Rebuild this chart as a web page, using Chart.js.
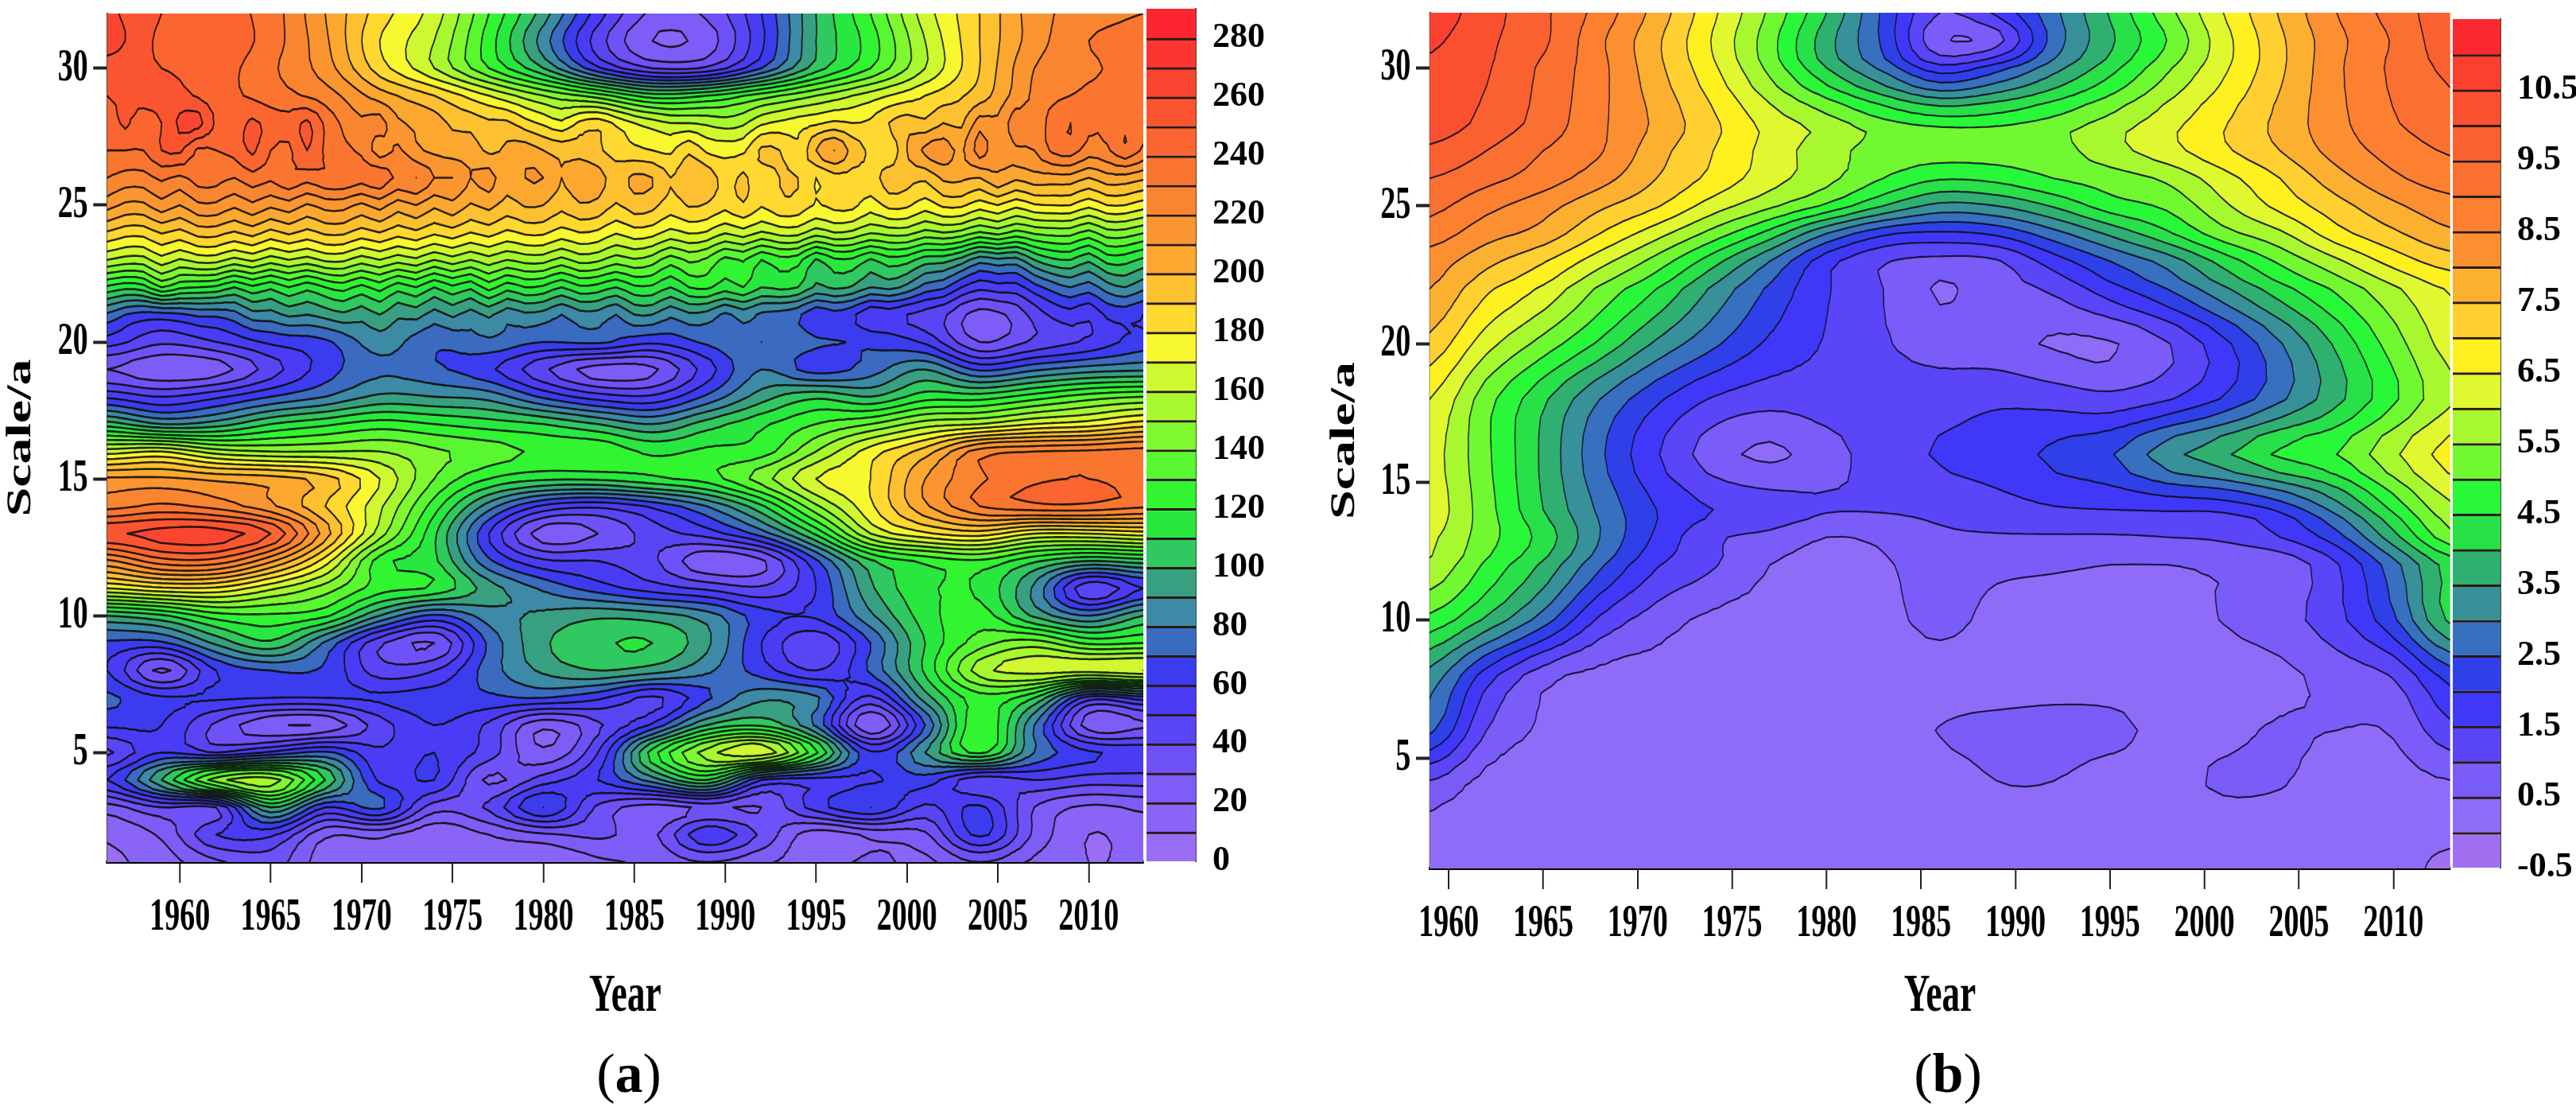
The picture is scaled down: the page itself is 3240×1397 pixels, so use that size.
<!DOCTYPE html>
<html>
<head>
<meta charset="utf-8">
<title>Wavelet contour panels</title>
<script src="https://cdn.jsdelivr.net/npm/chart.js@4"></script>
<style>
  html, body { margin:0; padding:0; background:#fff; width:3240px; height:1397px; overflow:hidden; }
  canvas { position:absolute; top:0; filter:blur(0.6px); }
  .tag { position:absolute; top:1314px; font:70px "Liberation Serif", serif; color:#000; transform:translateX(-50%); line-height:72px; }
  .tag b { font-weight:bold; }
</style>
</head>
<body>
<canvas id="panelA" width="2160" height="1397" style="left:0;width:1440px;height:1397px"></canvas>
<canvas id="barA" width="160" height="1397" style="left:1442px;width:160px;height:1397px"></canvas>
<canvas id="panelB" width="2130" height="1397" style="left:1665px;width:1420px;height:1397px"></canvas>
<canvas id="barB" width="155" height="1397" style="left:3085px;width:155px;height:1397px"></canvas>
<div class="tag" style="left:791px">(<b>a</b>)</div>
<div class="tag" style="left:2450px">(<b>b</b>)</div>
<script>
// panel (a) - grid, one row per scale, top row first.
// rows 28..21 are noisy so they are read every year (58 values), the rest every 3 years (20 values)
const yearsA = [1956,1959,1962,1965,1968,1971,1974,1977,1980,1983,1986,1989,1992,1995,1998,2001,2004,2007,2010,2013];
const scalesA = [32,31,30,29,28,27,26,25,24,23,22,21,20,19,18,17,16,15,14,13,12,11,10,9,8,7,6,5,4,3,2,1];
const valuesA = [
  [262,250,245,235,210,185,165,130,95,55,28,32,60,100,130,165,190,215,225,230],
  [265,248,248,235,212,180,160,125,85,45,20,25,58,100,125,160,190,215,230,235],
  [255,250,245,232,215,185,160,130,100,62,40,42,70,105,130,160,190,220,228,235],
  [250,255,245,235,225,205,190,170,150,135,115,120,135,150,165,180,195,222,232,232],
  [244,252,244,250,262,264,248,245,252,246,244,252,238,228,222,224,212,208,205,198,196,192,192,184,178,172,182,186,178,170,165,160,160,158,155,158,168,172,175,178,182,180,182,190,195,192,200,198,215,212,226,222,235,240,232,232,238,232],
  [240,240,240,250,252,238,240,243,252,240,238,250,238,232,228,215,222,212,208,205,205,198,202,205,200,196,196,192,185,182,180,178,188,178,176,178,192,190,182,200,210,196,188,182,200,212,215,208,225,212,218,220,232,235,225,228,238,228],
  [230,226,226,232,228,234,234,230,236,232,238,234,238,238,234,236,228,230,220,220,210,214,204,210,210,200,206,204,196,202,200,190,196,196,186,192,184,190,190,180,186,186,186,194,194,192,202,202,200,208,202,206,206,206,200,206,206,202],
  [214,208,208,216,210,218,218,212,218,212,216,209,214,214,208,214,205,210,202,207,199,203,196,201,200,193,199,197,189,195,193,185,191,189,183,189,181,187,186,179,183,183,175,183,182,175,182,182,175,180,173,179,180,180,173,180,180,175],
  [189,184,184,191,187,194,194,189,194,187,192,187,192,192,186,190,184,188,182,186,180,184,178,182,182,176,180,178,171,176,174,167,171,169,161,166,159,164,164,155,160,158,151,154,154,147,150,147,139,144,137,142,144,144,137,146,146,141],
  [160,156,156,166,159,164,164,157,162,155,160,156,162,162,155,160,154,158,150,156,150,156,150,154,154,147,154,152,145,149,145,135,142,138,127,131,120,126,124,109,118,118,109,116,114,105,104,96,84,88,86,100,108,110,102,114,114,108],
  [118,113,116,130,122,120,118,110,118,112,120,113,120,124,117,124,114,120,110,118,112,124,114,120,118,110,118,116,110,118,118,110,120,122,115,120,110,113,110,98,102,99,90,93,87,76,72,60,53,56,56,66,74,80,75,85,90,83],
  [78,70,66,66,68,72,72,76,86,86,92,90,94,98,94,100,92,94,86,92,86,92,84,88,86,80,86,86,80,90,90,82,88,86,78,84,78,76,72,62,66,62,52,54,50,46,42,32,26,28,34,44,52,56,52,62,64,60],
  [55,42,50,62,68,85,72,78,70,72,62,72,80,72,68,58,30,42,52,65],
  [30,22,25,45,65,78,72,62,42,25,28,55,80,65,75,90,68,78,85,88],
  [58,50,58,70,80,92,90,86,68,55,52,72,95,108,100,115,115,125,135,140],
  [105,90,95,110,118,125,120,115,110,100,90,105,118,130,140,155,160,170,175,185],
  [165,170,155,150,150,150,142,135,128,128,118,122,125,150,175,195,225,230,232,235],
  [212,212,208,205,195,170,140,120,112,112,118,125,145,170,180,210,228,238,240,236],
  [226,232,226,212,190,162,125,85,58,52,62,80,108,148,178,208,230,238,238,232],
  [258,264,265,250,205,155,112,60,25,30,45,55,75,112,160,178,185,170,170,175],
  [218,236,236,212,175,125,112,72,52,50,42,22,28,68,108,122,128,112,100,105],
  [170,178,178,162,145,125,118,95,78,65,55,48,42,60,98,118,118,88,42,60],
  [100,108,125,128,122,90,68,85,92,98,95,85,65,62,88,115,125,98,80,100],
  [68,68,92,108,78,42,30,72,98,108,110,92,60,42,70,110,135,145,128,130],
  [60,28,60,70,68,45,50,75,92,100,95,82,65,50,72,112,155,165,165,170],
  [72,62,62,60,60,62,65,68,70,62,48,68,88,82,48,95,125,110,55,65],
  [62,60,38,22,22,45,60,48,22,38,62,100,108,78,20,70,128,80,25,28],
  [38,60,50,62,72,52,60,45,22,50,115,155,168,122,62,90,122,80,62,58],
  [60,100,145,155,110,58,60,28,45,60,85,110,60,55,58,65,42,50,45,45],
  [25,40,40,100,60,72,35,42,70,38,25,32,30,55,70,48,62,30,18,22],
  [12,22,50,52,22,22,12,20,28,32,28,58,38,14,22,28,62,28,10,15],
  [8,15,28,35,15,18,12,15,10,18,22,30,22,15,22,18,30,18,10,12]
];
const levelsA = [0,10,20,30,40,50,60,70,80,90,100,110,120,130,140,150,160,170,180,190,200,210,220,230,240,250,260,270,280,290];
const colorsA = ['#9a6df5','#8a63f7','#7d5cf7','#6f52f7','#5a45f5','#4a3cf5','#3a3cee','#3a6bc0','#3c8aa5','#38a080',
  '#30c860','#28e840','#30f530','#58f830','#80f830','#a8f830','#d0f830','#f8f830','#ffd830','#fdc030',
  '#fca830','#fb9530','#fa8530','#fa7530','#fa6530','#fa5530','#fa4530','#fb3530','#fc2530'];
const barTicksA = [0,20,40,60,80,100,120,140,160,180,200,220,240,260,280];
const yearTicksA = [1960,1965,1970,1975,1980,1985,1990,1995,2000,2005,2010];

// panel (b)
const yearsB = [1959,1962,1965,1968,1971,1974,1977,1980,1983,1986,1989,1992,1995,1998,2001,2004,2007,2010,2013];
const scalesB = [32,31,30,28,27,26,25,24,23,22,20,18,16,14,13,12,10,8,6,4,2,1];
const valuesB = [
  [10.8,10.2,9.6,8.8,7.8,6.6,5.4,4.0,2.4,1.0,1.6,2.85,4.05,5.3,6.5,7.55,8.5,9.2,9.8],
  [10.6,10.1,9.6,8.6,7.6,6.45,5.2,3.7,2.4,0.6,0.8,2.7,3.9,5.0,6.3,7.4,8.35,9.05,9.8],
  [10.4,10.05,9.4,8.65,7.65,6.6,5.35,4.0,2.85,1.7,2.3,3.3,4.3,5.4,6.4,7.4,8.4,9.1,9.6],
  [10.3,9.85,9.3,8.6,7.9,7.1,6.3,5.75,5.15,4.85,4.9,5.2,5.7,6.3,6.95,7.65,8.35,8.95,9.3],
  [9.9,9.5,9.0,8.55,7.7,7.0,6.3,5.7,5.3,5.2,5.2,5.3,5.8,6.3,6.9,7.5,8.2,8.7,9.05],
  [9.5,9.15,8.75,8.2,7.5,6.85,6.2,5.65,5.0,4.55,4.65,5.0,5.25,5.6,6.3,7.0,7.8,8.4,8.75],
  [9.15,8.65,8.2,7.6,7.05,6.25,5.6,4.9,4.0,3.35,3.5,4.05,4.75,5.1,5.9,6.65,7.3,7.9,8.3],
  [8.75,8.2,7.8,7.0,6.2,5.3,4.3,3.0,2.1,1.9,2.1,2.8,3.6,4.4,5.3,5.9,6.8,7.4,7.9],
  [8.25,7.65,7.05,6.2,5.3,4.2,3.0,1.7,1.05,0.85,0.95,1.75,2.5,3.2,4.2,5.1,5.9,6.7,7.25],
  [8.0,7.1,6.4,5.4,4.5,3.4,2.4,1.55,1.0,0.45,0.8,1.1,1.8,2.5,3.4,4.3,5.1,5.9,6.55],
  [7.35,6.2,5.3,4.4,3.4,2.6,1.9,1.45,1.05,0.8,0.7,0.45,0.45,0.95,1.85,2.95,4.1,5.25,6.2],
  [6.5,5.2,4.1,3.0,2.1,1.45,1.2,1.25,1.2,1.25,1.4,1.3,1.15,1.45,2.05,2.9,3.85,4.9,5.9],
  [6.2,5.1,3.9,2.6,1.55,0.75,0.4,0.8,1.25,1.55,1.75,2.1,2.45,3.3,3.9,4.6,5.0,5.9,6.7],
  [6.3,5.2,4.0,2.9,2.0,1.5,1.3,1.05,1.05,1.15,1.3,1.45,1.5,1.55,1.6,2.1,3.2,4.6,5.85],
  [6.1,5.2,4.3,3.0,1.9,1.1,0.85,0.5,0.6,0.9,0.95,0.95,0.95,1.0,1.1,1.5,2.3,3.8,5.3],
  [5.9,4.9,3.9,2.6,1.55,1.05,0.5,0.3,0.45,0.7,0.6,0.55,0.5,0.5,0.55,0.65,1.45,2.8,4.2],
  [4.85,3.9,2.75,1.4,0.75,0.38,0.3,0.3,0.35,0.65,0.35,0.3,0.3,0.3,0.52,0.8,1.35,2.4,4.1],
  [3.3,1.75,0.7,0.35,0.3,0.25,0.25,0.25,0.25,0.25,0.25,0.3,0.3,0.25,0.25,0.38,0.7,1.05,2.2],
  [2.6,1.0,0.42,0.25,0.25,0.25,0.25,0.25,0.25,0.52,0.62,0.65,0.6,0.4,0.4,0.55,0.5,0.55,1.35],
  [0.85,0.3,0.2,0.2,0.2,0.2,0.2,0.2,0.2,0.25,0.48,0.48,0.3,0.35,0.55,0.52,0.3,0.3,0.42],
  [0.3,0.2,0.2,0.2,0.2,0.2,0.2,0.2,0.2,0.2,0.2,0.2,0.2,0.2,0.2,0.2,0.2,0.2,0.08],
  [0.2,0.2,0.2,0.2,0.2,0.2,0.2,0.2,0.2,0.2,0.2,0.2,0.2,0.2,0.2,0.2,0.2,0.2,-0.15]
];
const levelsB = [-0.5,0,0.5,1,1.5,2,2.5,3,3.5,4,4.5,5,5.5,6,6.5,7,7.5,8,8.5,9,9.5,10,10.5,11,11.5];
const colorsB = ['#a070f0','#8f6cf8','#7a5cf8','#5a45f8','#4038f8','#3040e8','#3870c0','#389098','#30b070','#28e048',
  '#28f838','#70f830','#a8f830','#e0f830','#fff020','#ffd030','#fcb030','#fc9030','#fc8030','#fa7030',
  '#fa6030','#fa5030','#fb4030','#fc2830'];
const barTicksB = [-0.5,0.5,1.5,2.5,3.5,4.5,5.5,6.5,7.5,8.5,9.5,10.5];
const yearTicksB = [1960,1965,1970,1975,1980,1985,1990,1995,2000,2005,2010];
const scaleTicks = [5,10,15,20,25,30];

const SERIF = '"Liberation Serif", serif';

// Catmull-Rom, only used to round off the drawn contour between grid nodes
function cr(a, b, c, d, t) {
  return 0.5*(2*b + (c-a)*t + (2*a-5*b+4*c-d)*t*t + (3*b-a-3*c+d)*t*t*t);
}
function refineRow(row, f) {
  const out = [];
  for (let i=0; i<row.length-1; i++) {
    const a=row[Math.max(i-1,0)], b=row[i], c=row[i+1], d=row[Math.min(i+2,row.length-1)];
    for (let k=0; k<f; k++) out.push(cr(a,b,c,d,k/f));
  }
  out.push(row[row.length-1]);
  return out;
}
function refineAxis(list, f) {
  const out = [];
  for (let i=0; i<list.length-1; i++) for (let k=0; k<f; k++) out.push(list[i]+(list[i+1]-list[i])*k/f);
  out.push(list[list.length-1]);
  return out;
}
function refineGrid(rows, sub, fy) {
  const wide = rows.map(r=>refineRow(r, sub/(r.length-1)));
  const cols = wide[0].map((_,i)=>refineRow(wide.map(r=>r[i]),fy));
  return cols[0].map((_,j)=>cols.map(c=>c[j]));
}

function clipTri(tri, lev) {
  const out = [];
  for (let i=0; i<3; i++) {
    const p=tri[i], q=tri[(i+1)%3];
    if (p.v>=lev) out.push(p);
    if ((p.v>=lev)!==(q.v>=lev)) {
      const t=(lev-p.v)/(q.v-p.v);
      out.push({x:p.x+(q.x-p.x)*t, y:p.y+(q.y-p.y)*t, v:lev});
    }
  }
  return out;
}

const contourPlugin = {
  id:'contour',
  beforeDatasetsDraw(chart, args, opts) {
    const {ctx, chartArea:ca, scales} = chart;
    const xs = refineAxis(opts.years, opts.sub/(opts.years.length-1)).map(v=>scales.x.getPixelForValue(v));
    const ys = refineAxis(opts.rows, opts.fy).map(v=>scales.y.getPixelForValue(v));
    const grid = refineGrid(opts.values, opts.sub, opts.fy);
    const tris = [];
    for (let j=0; j<ys.length-1; j++) for (let i=0; i<xs.length-1; i++) {
      const a={x:xs[i],y:ys[j],v:grid[j][i]}, b={x:xs[i+1],y:ys[j],v:grid[j][i+1]};
      const c={x:xs[i+1],y:ys[j+1],v:grid[j+1][i+1]}, d={x:xs[i],y:ys[j+1],v:grid[j+1][i]};
      tris.push([a,b,c],[a,c,d]);
    }
    tris.forEach(t=>{ t.min=Math.min(t[0].v,t[1].v,t[2].v); t.max=Math.max(t[0].v,t[1].v,t[2].v); });

    ctx.save();
    ctx.beginPath(); ctx.rect(ca.left,ca.top,ca.width,ca.height); ctx.clip();
    ctx.fillStyle = opts.colors[0];
    ctx.fillRect(ca.left,ca.top,ca.width,ca.height);

    const L = opts.levels;
    for (let k=1; k<opts.colors.length; k++) {
      const lev=L[k], skip=L[Math.min(k+2,L.length-1)];
      ctx.beginPath();
      tris.forEach(t=>{
        if (t.max<lev || (t.min>=skip && k+2<L.length-1)) return;
        const poly = t.min>=lev ? t : clipTri(t,lev);
        poly.forEach((p,i)=> i? ctx.lineTo(p.x,p.y) : ctx.moveTo(p.x,p.y));
        ctx.closePath();
      });
      ctx.fillStyle = opts.colors[k];
      ctx.fill();
    }

    ctx.beginPath();
    for (let k=1; k<L.length-1; k++) {
      const lev=L[k];
      tris.forEach(t=>{
        if (t.max<lev || t.min>=lev) return;
        const hit=[];
        for (let i=0; i<3; i++) {
          const p=t[i], q=t[(i+1)%3];
          if ((p.v>=lev)!==(q.v>=lev)) {
            const u=(lev-p.v)/(q.v-p.v);
            hit.push(p.x+(q.x-p.x)*u, p.y+(q.y-p.y)*u);
          }
        }
        if (hit.length===4) { ctx.moveTo(hit[0],hit[1]); ctx.lineTo(hit[2],hit[3]); }
      });
    }
    ctx.lineWidth = opts.lineWidth;
    ctx.lineCap = 'round';
    ctx.strokeStyle = opts.lineColor;
    ctx.stroke();
    ctx.restore();
  }
};

function gridPoints(years, rows, values) {
  const first=years[0], last=years[years.length-1], pts=[];
  rows.forEach((s,j)=>values[j].forEach((v,i)=>pts.push({x:first+(last-first)*i/(values[j].length-1), y:s, v})));
  return pts;
}

// chart.js reserves half a tick label above/below the scale, we want the plot box exact
const noScalePad = s=>{ s.paddingTop=0; s.paddingBottom=0; s.paddingLeft=0; s.paddingRight=0; };

function makePanel(id, cfg) {
  return new Chart(document.getElementById(id), {
    type:'scatter',
    data:{ datasets:[{ data:gridPoints(cfg.years,cfg.rows,cfg.values), pointRadius:0, showLine:false }] },
    plugins:[contourPlugin],
    options:{
      responsive:false, animation:false, events:[],
      layout:{ padding:{ top:cfg.top, right:cfg.right, left:0, bottom:0 } },
      plugins:{
        legend:{display:false}, tooltip:{enabled:false},
        contour:{ years:cfg.years, rows:cfg.rows, values:cfg.values, levels:cfg.levels, colors:cfg.colors,
                  sub:cfg.sub, fy:3, lineWidth:cfg.lineWidth, lineColor:cfg.lineColor }
      },
      scales:{
        x:{
          type:'linear', min:cfg.years[0], max:cfg.years[cfg.years.length-1],
          afterBuildTicks:s=>{ s.ticks=cfg.yearTicks.map(v=>({value:v})); },
          afterFit:s=>{ s.height=cfg.xHeight; noScalePad(s); },
          grid:{ drawOnChartArea:false, tickLength:26, tickWidth:3, tickColor:'#222' },
          border:{ color:'#000', width:4 },
          ticks:{ autoSkip:false, maxRotation:0, padding:10, color:'#000',
                  font:{ family:SERIF, size:57, weight:'bold' }, callback:v=>String(v) },
          title:{ display:true, text:'Year', color:'#000', padding:{top:0,bottom:103},
                  font:{ family:SERIF, size:68, weight:'bold' } }
        },
        y:{
          type:'linear', min:1, max:32,
          afterBuildTicks:s=>{ s.ticks=scaleTicks.map(v=>({value:v})); },
          afterFit:s=>{ s.width=cfg.yWidth; noScalePad(s); },
          grid:{ drawOnChartArea:false, tickLength:26, tickWidth:4, tickColor:'#222' },
          border:{ color:'#333', width:3 },
          ticks:{ autoSkip:false, padding:10, color:'#000',
                  font:{ family:SERIF, size:57, weight:'bold' }, callback:v=>String(v) },
          title:{ display:true, text:'Scale/a', color:'#000', padding:0,
                  font:{ family:SERIF, size:66, weight:'bold' } }
        }
      }
    }
  });
}

function makeBar(id, cfg) {
  const datasets = cfg.colors.map((c,i)=>({
    data:[[cfg.levels[i],cfg.levels[i+1]]], backgroundColor:c, borderColor:'#2a1a10',
    borderWidth:{ top:i===cfg.colors.length-1?0:3, bottom:0, left:0, right:0 }, borderSkipped:false,
    barPercentage:1, categoryPercentage:1
  }));
  return new Chart(document.getElementById(id), {
    type:'bar',
    data:{ labels:[''], datasets },
    options:{
      responsive:false, animation:false, events:[],
      layout:{ padding:{ top:cfg.top, bottom:cfg.bottom, left:0, right:0 } },
      plugins:{ legend:{display:false}, tooltip:{enabled:false} },
      scales:{
        x:{ stacked:true, display:false },
        y:{
          position:'right', min:cfg.levels[0], max:cfg.levels[cfg.levels.length-1],
          afterBuildTicks:s=>{ s.ticks=cfg.ticks.map(v=>({value:v})); },
          afterFit:s=>{ s.width=cfg.width; noScalePad(s); },
          grid:{ display:false },
          border:{ color:'#443', width:2 },
          ticks:{ autoSkip:false, padding:13, color:'#000', font:{ family:SERIF, size:44, weight:'bold' },
                  callback:v=>String(v) }
        }
      }
    }
  });
}

makePanel('panelA', { years:yearsA, rows:scalesA, values:valuesA, levels:levelsA, colors:colorsA, yearTicks:yearTicksA,
  sub:114, top:17, right:3, xHeight:313, yWidth:202, lineWidth:2.6, lineColor:'rgba(12,12,8,0.88)' });
makePanel('panelB', { years:yearsB, rows:scalesB, values:valuesB, levels:levelsB, colors:colorsB, yearTicks:yearTicksB,
  sub:72, top:16, right:5, xHeight:305, yWidth:200, lineWidth:2.2, lineColor:'rgba(14,12,40,0.88)' });
makeBar('barA', { levels:levelsA, colors:colorsA, ticks:barTicksA, top:11, bottom:314, width:98 });
makeBar('barB', { levels:levelsB, colors:colorsB, ticks:barTicksB, top:24, bottom:306, width:95 });
</script>
</body>
</html>
